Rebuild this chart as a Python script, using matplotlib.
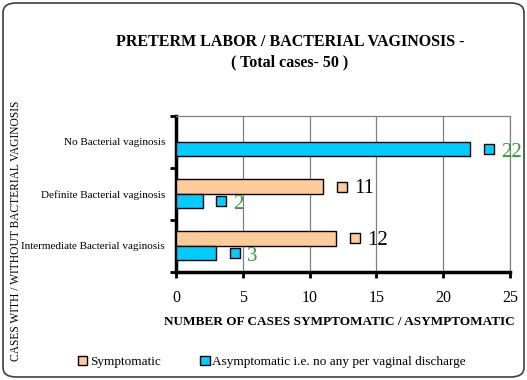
import matplotlib.pyplot as plt
from matplotlib.patches import FancyBboxPatch
import numpy as np

plt.rcParams['font.family'] = ['Liberation Serif', 'DejaVu Serif']

categories = ['No Bacterial vaginosis', 'Definite Bacterial vaginosis', 'Intermediate Bacterial vaginosis']
symptomatic = [0, 11, 12]
asymptomatic = [22, 2, 3]
series_names = ['Symptomatic', 'Asymptomatic i.e. no any per vaginal discharge']

orange = '#FFCC99'
blue = '#00CCFF'
green = '#339933'

fig = plt.figure(figsize=(5.27, 3.8), dpi=100)
ax = fig.add_axes([176 / 527, 1 - 271.7 / 380, 334 / 527, 155.7 / 380])

# rounded outer border
fig.patches.append(FancyBboxPatch((3 / 527, 3 / 380), 521 / 527, 374 / 380,
                                  boxstyle='round,pad=0,rounding_size=0.025',
                                  transform=fig.transFigure, fill=False,
                                  edgecolor='#404040', linewidth=1.2))

y = np.arange(len(categories))
h = 0.28
ax.barh(y - h / 2, symptomatic, height=h, color=orange, edgecolor='black', linewidth=1, zorder=3)
ax.barh(y + h / 2, asymptomatic, height=h, color=blue, edgecolor='black', linewidth=1, zorder=3)

# data labels with legend keys
for i in range(len(categories)):
    if symptomatic[i] > 0:
        ax.plot(symptomatic[i] + 1.4, y[i] - h / 2, 's', ms=7, mfc=orange, mec='black',
                mew=1, clip_on=False, zorder=4)
        ax.text(symptomatic[i] + 2.3, y[i] - h / 2 + 0.03, str(symptomatic[i]), fontsize=15,
                va='center', ha='left', color='black', clip_on=False)
    ax.plot(asymptomatic[i] + 1.4, y[i] + h / 2, 's', ms=7, mfc=blue, mec='black',
            mew=1, clip_on=False, zorder=4)
    ax.text(asymptomatic[i] + 2.3, y[i] + h / 2 + 0.06, str(asymptomatic[i]), fontsize=15,
            va='center', ha='left', color=green, clip_on=False)

ax.set_xlim(0, 25)
ax.set_ylim(2.5, -0.5)
ax.set_xticks(np.arange(0, 26, 5))
ax.tick_params(axis='x', labelsize=11.5, length=4, width=2, direction='out', pad=9)
ax.set_yticks(y)
ax.set_yticklabels(categories, fontsize=8)
ax.tick_params(axis='y', length=0, pad=8)
# minor ticks at category boundaries
ax.set_yticks([-0.5, 0.5, 1.5, 2.5], minor=True)
ax.tick_params(axis='y', which='minor', length=4, width=2, direction='out')

ax.grid(axis='x', color='#808080', linewidth=0.9, zorder=0)
for s in ['top', 'right']:
    ax.spines[s].set_color('#808080')
    ax.spines[s].set_linewidth(0.9)
ax.spines['left'].set_linewidth(2.5)
ax.spines['bottom'].set_linewidth(2.5)

fig.text(515 / 527, 1 - 322 / 380, 'NUMBER OF CASES SYMPTOMATIC / ASYMPTOMATIC',
         fontsize=9.5, fontweight='bold', ha='right', va='center')

fig.text(16 / 527, 1 - 231 / 380, 'CASES WITH / WITHOUT BACTERIAL VAGINOSIS',
         rotation=90, fontsize=8.3, ha='center', va='center')

fig.text(290 / 527, 1 - 42 / 380, 'PRETERM LABOR / BACTERIAL VAGINOSIS -',
         fontsize=11.5, fontweight='bold', ha='center', va='center')
fig.text(290 / 527, 1 - 62 / 380, '( Total cases- 50 )',
         fontsize=11.5, fontweight='bold', ha='center', va='center')

# legend
handles = [plt.Rectangle((0, 0), 1, 1, facecolor=orange, edgecolor='black'),
           plt.Rectangle((0, 0), 1, 1, facecolor=blue, edgecolor='black')]
fig.legend(handles, series_names, loc='center', bbox_to_anchor=(272 / 527, 1 - 362 / 380),
           ncol=2, frameon=False, fontsize=9.5, handlelength=0.7, handleheight=0.7,
           handletextpad=0.2, columnspacing=3.0)

fig.savefig('out.png', dpi=100)
